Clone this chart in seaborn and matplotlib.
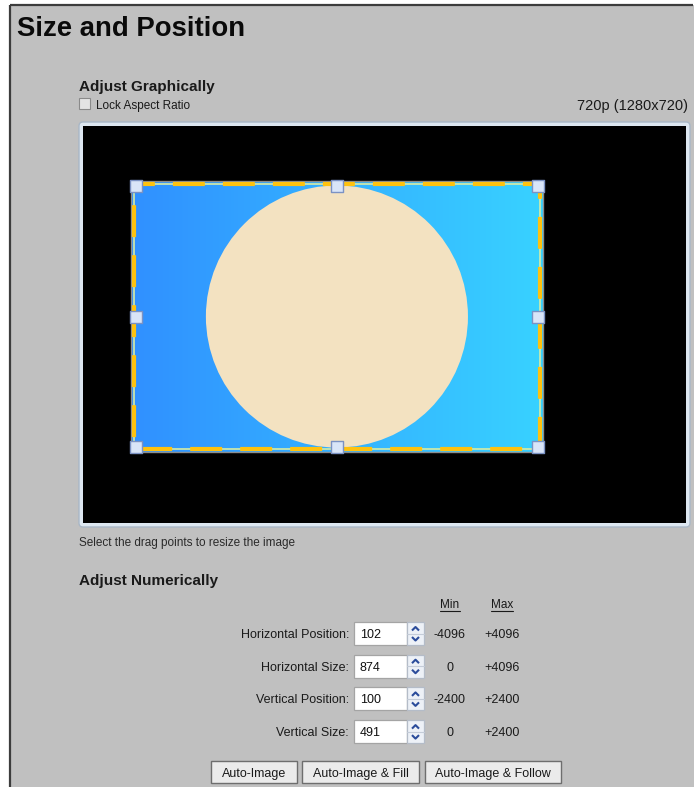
import numpy as np
import matplotlib
matplotlib.use("Agg")
import matplotlib.pyplot as plt
import matplotlib.patches as mpatches
import seaborn as sns

# ---- data ----
row_labels = ["Horizontal Position:", "Horizontal Size:", "Vertical Position:", "Vertical Size:"]
row_values = [102, 874, 100, 491]
row_min = ["-4096", "0", "-2400", "0"]
row_max = ["+4096", "+4096", "+2400", "+2400"]
screen_w, screen_h = 1280, 720
mode_label = "720p (1280x720)"
button_labels = ["Auto-Image", "Auto-Image & Fill", "Auto-Image & Follow"]

sns.set_theme(style="white")
plt.rcParams["font.family"] = ["Liberation Sans", "DejaVu Sans"]
plt.rcParams["lines.scale_dashes"] = False

W, H = 694, 787
fig = plt.figure(figsize=(W / 100, H / 100), dpi=100)
fig.patch.set_facecolor("white")
ax = fig.add_axes([0, 0, 1, 1])
ax.set_xlim(0, W)
ax.set_ylim(H, 0)
ax.axis("off")

TXT = "#1a1a1a"
# panel
ax.add_patch(mpatches.Rectangle((10, 5), W - 10, H - 5, fc="#c0c0c0", ec="none", zorder=0))
ax.plot([10, 10], [5, H], color="#3c3c3c", lw=1.6, solid_capstyle="butt", zorder=1)
ax.plot([10, W - 1], [5, 5], color="#3c3c3c", lw=1.6, solid_capstyle="butt", zorder=1)

ax.text(17, 36, "Size and Position", fontsize=19.8, fontweight="bold", color="#0a0a0a", va="baseline")
ax.text(79, 91, "Adjust Graphically", fontsize=11, fontweight="bold", color=TXT, va="baseline")
ax.add_patch(mpatches.Rectangle((79, 98), 11, 11, fc="#e4e4e4", ec="#8a8a8a", lw=0.8))
ax.text(96, 109, "Lock Aspect Ratio", fontsize=8.5, color=TXT, va="baseline")
ax.text(688, 110, mode_label, fontsize=10.5, color=TXT, va="baseline", ha="right")

# preview frame
ax.add_patch(mpatches.FancyBboxPatch((79, 122), 611, 405, boxstyle="round,pad=0,rounding_size=4",
                                     fc="#dde7f1", ec="#a9b7c6", lw=1))
ax.text(79, 546, "Select the drag points to resize the image", fontsize=8.5, color="#2a2a2a", va="baseline")
ax.text(79, 585, "Adjust Numerically", fontsize=11, fontweight="bold", color=TXT, va="baseline")

# numeric section
min_x, max_x = 450, 502
ax.text(min_x, 608, "Min", fontsize=8.5, color=TXT, va="baseline", ha="center")
ax.text(max_x, 608, "Max", fontsize=8.5, color=TXT, va="baseline", ha="center")
ax.plot([min_x - 10, min_x + 10], [611, 611], color=TXT, lw=0.8)
ax.plot([max_x - 11, max_x + 11], [611, 611], color=TXT, lw=0.8)

for i, (lab, val, mn, mx) in enumerate(zip(row_labels, row_values, row_min, row_max)):
    cy = 633.5 + i * 32.7
    base = cy + 4.5
    ax.text(349, base, lab, fontsize=9, color=TXT, va="baseline", ha="right")
    ax.add_patch(mpatches.Rectangle((354, cy - 11.5), 53, 23, fc="white", ec="#a4a4a4", lw=0.9))
    ax.text(360, base, str(val), fontsize=9, color="#101010", va="baseline")
    ax.add_patch(mpatches.Rectangle((407, cy - 11.5), 17, 23, fc="#edf1f7", ec="#b4bcc8", lw=0.9))
    ax.plot([407, 424], [cy, cy], color="#c4ccd8", lw=0.8)
    ax.plot([412, 415.5, 419], [cy - 3, cy - 6.5, cy - 3], color="#2b4c9b", lw=1.5, solid_capstyle="butt")
    ax.plot([412, 415.5, 419], [cy + 3.5, cy + 7, cy + 3.5], color="#2b4c9b", lw=1.5, solid_capstyle="butt")
    ax.text(min_x, base, mn, fontsize=9, color=TXT, va="baseline", ha="center")
    ax.text(max_x, base, mx, fontsize=9, color=TXT, va="baseline", ha="center")

# buttons
btn_x = [(211, 297), (302, 419), (425, 561)]
for (x0, x1), lab in zip(btn_x, button_labels):
    ax.add_patch(mpatches.Rectangle((x0, 761), x1 - x0, 22, fc="#ebebeb", ec="#6e6e6e", lw=1))
    ax.text((x0 + x1) / 2, 777, lab, fontsize=9, color=TXT, va="baseline", ha="center")

# ---- preview axes (screen coordinates) ----
px0, py0, px1, py1 = 83, 126, 686, 523
ax2 = fig.add_axes([px0 / W, 1 - py1 / H, (px1 - px0) / W, (py1 - py0) / H])
ax2.set_xlim(0, screen_w)
ax2.set_ylim(screen_h, 0)
ax2.set_facecolor("black")
ax2.set_xticks([]); ax2.set_yticks([])
for s in ax2.spines.values():
    s.set_visible(False)
sx = (px1 - px0) / screen_w
sy = (py1 - py0) / screen_h

x0, w, y0, h = row_values
x1, y1 = x0 + w, y0 + h
grad = np.linspace(0, 1, 256)[None, :, None]
c_left = np.array([48, 144, 255]) / 255
c_right = np.array([56, 210, 255]) / 255
img = c_left[None, None, :] * (1 - grad) + c_right[None, None, :] * grad
ax2.imshow(img, extent=[x0, x1, y1, y0], aspect="auto", interpolation="bilinear", zorder=1)

diam_px = 0.968 * h * sy
ax2.add_patch(mpatches.Ellipse((x0 + w / 2, y0 + h / 2), diam_px / sx, diam_px / sy,
                               fc="#f3e2c1", ec="none", zorder=2))

# border
ax2.add_patch(mpatches.Rectangle((x0, y0), w, h, fc="none", ec="#8c8c8c", lw=1.0, zorder=3))
ix, iy = 2.5 / sx, 2.5 / sy
bx = [x0 + ix, x1 - ix, x1 - ix, x0 + ix, x0 + ix]
by = [y0 + iy, y0 + iy, y1 - iy, y1 - iy, y0 + iy]
ax2.plot(bx, by, color="#d6eca6", lw=1.2, zorder=3)
ax2.plot(bx, by, color="#ffc20e", lw=3.0, linestyle=(8, (23, 13)), zorder=4, solid_capstyle="butt",
         dash_capstyle="butt")

# handles
hix, hiy = 5 / sx, 4.5 / sy
hx = [x0 + hix, x0 + w / 2, x1 - hix, x0 + hix, x1 - hix, x0 + hix, x0 + w / 2, x1 - hix]
hy = [y0 + hiy, y0 + hiy, y0 + hiy, y0 + h / 2, y0 + h / 2, y1 - hiy, y1 - hiy, y1 - hiy]
sns.scatterplot(x=hx, y=hy, ax=ax2, marker="s", s=64, color="#d9e5f8", edgecolor="#7b92c4",
                linewidth=1.0, zorder=5, legend=False)
ax2.set_xlim(0, screen_w)
ax2.set_ylim(screen_h, 0)
ax2.set_xlabel(""); ax2.set_ylabel("")

fig.savefig("out.png", dpi=100, facecolor=fig.get_facecolor())
